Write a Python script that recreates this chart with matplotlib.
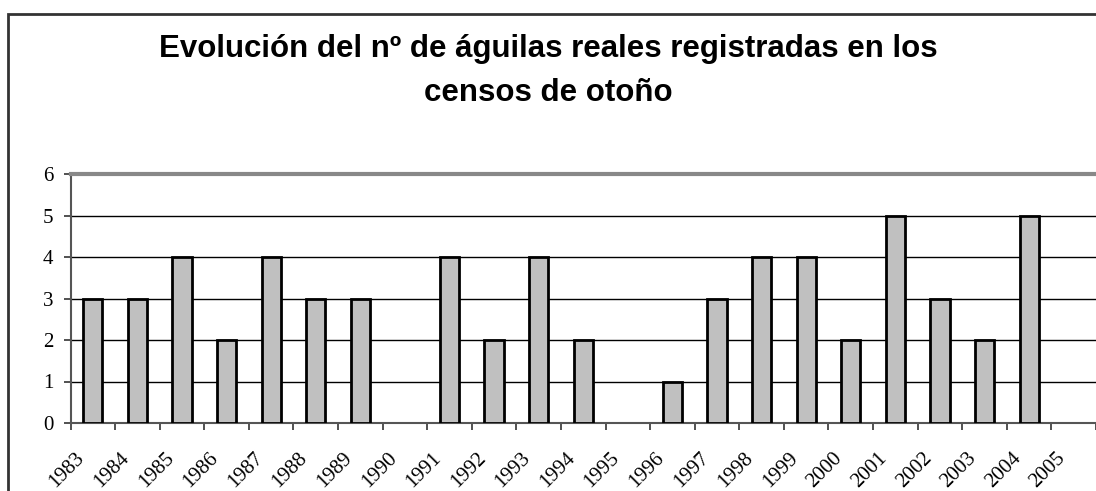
import matplotlib
matplotlib.use("Agg")
import numpy as np
import matplotlib.pyplot as plt
from matplotlib.patches import Rectangle
from matplotlib.transforms import ScaledTranslation

# datos del censo de otoño
years = [str(y) for y in range(1983, 2006)]
aguilas = [3, 3, 4, 2, 4, 3, 3, 0, 4, 2, 4, 2, 0, 1, 3, 4, 4, 2, 5, 3, 2, 5, 0]
y_ticks = [0, 1, 2, 3, 4, 5, 6]

TITLE = "Evolución del nº de águilas reales registradas en los\ncensos de otoño"

fig = plt.figure(figsize=(10.96, 4.91), dpi=100)

# marco exterior del gráfico (se sale por la derecha y abajo)
fig.patches.append(Rectangle((8 / 1096, -0.05), 1.2, 1 - 14 / 491 + 0.05,
                             transform=fig.transFigure, fill=False,
                             edgecolor="#333333", linewidth=2))

fig.text(0.5, 1 - 71 / 491, TITLE, ha="center", va="center",
         fontsize=22.5, fontweight="bold", family="Liberation Sans",
         linespacing=1.6)

ax = fig.add_axes([70.5 / 1096, 1 - 423 / 491, 1 - 70.5 / 1096, (423 - 174) / 491])

x = np.arange(len(years))
bars = ax.bar(x, aguilas, width=0.43, color="#C0C0C0", edgecolor="black",
              linewidth=2, zorder=3)
for b, v in zip(bars, aguilas):
    if v == 0:
        b.set_visible(False)

ax.set_xlim(-0.5, len(years) - 0.5)
ax.set_ylim(0, 6)

ax.set_yticks(y_ticks)
ax.set_yticklabels([str(v) for v in y_ticks], family="Liberation Serif", fontsize=15)
for v in y_ticks[1:-1]:
    ax.axhline(v, color="black", linewidth=1, zorder=1)

ax.set_xticks(x)
ax.set_xticklabels(years, rotation=45, ha="right", va="center",
                   rotation_mode="anchor", family="Liberation Serif", fontsize=15)
ax.set_xticks(np.arange(-0.5, len(years), 1.0), minor=True)
ax.tick_params(axis="x", which="major", length=0, pad=0)
ax.tick_params(axis="x", which="minor", length=5, width=1.2, color="#333333", direction="out")
ax.tick_params(axis="y", length=5, width=1.2, color="#333333", pad=7.5)

offset = ScaledTranslation(-11 / 100, -32 / 100, fig.dpi_scale_trans)
for lab in ax.get_xticklabels():
    lab.set_transform(lab.get_transform() + offset)

ax.spines["right"].set_visible(False)
ax.spines["top"].set_color("#888888")
ax.spines["top"].set_linewidth(3)
ax.spines["left"].set_color("#555555")
ax.spines["left"].set_linewidth(1.5)
ax.spines["bottom"].set_color("#555555")
ax.spines["bottom"].set_linewidth(1.5)

fig.savefig("out.png", dpi=100)
